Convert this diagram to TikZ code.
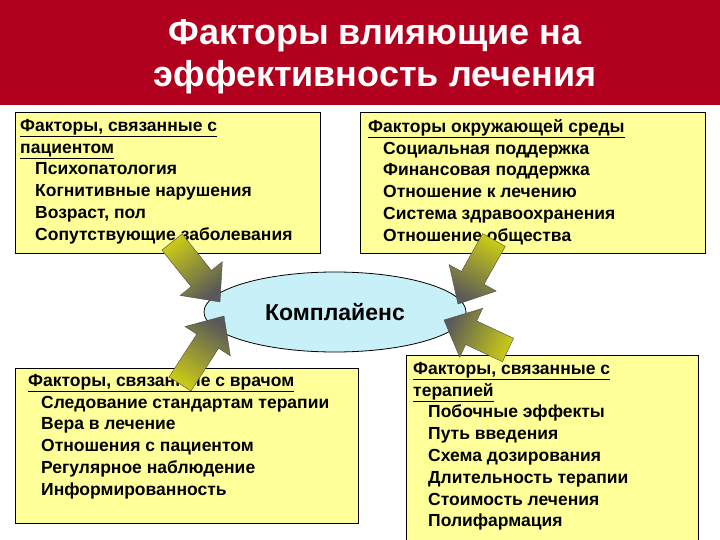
\documentclass[tikz,border=0pt]{standalone}
\usepackage{fontspec}
\setmainfont{Liberation Sans}
\usetikzlibrary{calc,shapes.geometric}
\definecolor{hdr}{HTML}{B0001E}
\definecolor{boxy}{HTML}{FFFF99}
\definecolor{ell}{HTML}{C8F0F8}
\tikzset{
 fbox/.style={draw=black,fill=boxy,line width=0.8pt},
 ftxt/.style={anchor=north west,align=left,font=\bfseries\fontsize{17.5}{21.8}\selectfont,inner sep=0pt},
}
\newcommand{\blockarrow}[2]{%
 \path let \p1=(#1), \p2=(#2), \n1={atan2(\y2-\y1,\x2-\x1)}, \n2={veclen(\x2-\x1,\y2-\y1)} in
  [shift={(#1)},rotate=\n1, draw=black!70, line width=0.4pt, left color=black!65, right color=olive!60!yellow!70, shading angle=\n1-90]
  (0,-13) -- (\n2-30,-13) -- (\n2-30,-27) -- (\n2,0) -- (\n2-30,27) -- (\n2-30,13) -- (0,13) -- cycle;}
\begin{document}
\begin{tikzpicture}[x=1pt,y=-1pt]
\useasboundingbox (0,0) rectangle (720,540);
\fill[white] (0,0) rectangle (720,540);
\fill[hdr] (0,0) rectangle (720,105);
\node[text=white,font=\bfseries\fontsize{36}{42}\selectfont,align=center] (title) at (375,57) {Факторы влияющие на\\эффективность лечения};
\node[fbox,minimum width=305pt,minimum height=141pt,anchor=north west] (pat) at (15,112) {};
\node[ftxt] (patt) at (20,119) {\underline{Факторы, связанные с}\\\underline{пациентом}\\\hspace*{15pt}Психопатология\\\hspace*{15pt}Когнитивные нарушения\\\hspace*{15pt}Возраст, пол\\\hspace*{15pt}Сопутствующие заболевания};
\node[fbox,minimum width=345pt,minimum height=141pt,anchor=north west] (env) at (360,112) {};
\node[ftxt] (envt) at (368,119) {\underline{Факторы окружающей среды}\\\hspace*{15pt}Социальная поддержка\\\hspace*{15pt}Финансовая поддержка\\\hspace*{15pt}Отношение к лечению\\\hspace*{15pt}Система здравоохранения\\\hspace*{15pt}Отношение общества};
\node[fbox,minimum width=343pt,minimum height=155pt,anchor=north west] (doc) at (15,368) {};
\node[ftxt] (doct) at (28,374) {\underline{Факторы, связанные с врачом}\\\hspace*{13pt}Следование стандартам терапии\\\hspace*{13pt}Вера в лечение\\\hspace*{13pt}Отношения с пациентом\\\hspace*{13pt}Регулярное наблюдение\\\hspace*{13pt}Информированность};
\node[fbox,minimum width=292pt,minimum height=190pt,anchor=north west] (ther) at (406,355) {};
\node[ftxt] (thert) at (413,362) {\underline{Факторы, связанные с}\\\underline{терапией}\\\hspace*{15pt}Побочные эффекты\\\hspace*{15pt}Путь введения\\\hspace*{15pt}Схема дозирования\\\hspace*{15pt}Длительность терапии\\\hspace*{15pt}Стоимость лечения\\\hspace*{15pt}Полифармация};
\node[draw=black,line width=0.8pt,fill=ell,ellipse,minimum width=262pt,minimum height=80pt,font=\bfseries\fontsize{23}{28}\selectfont] (comp) at (335,312) {Комплайенс};
\coordinate (a1) at (172,242); \coordinate (b1) at (220,302);
\coordinate (a2) at (494,240); \coordinate (b2) at (458,304);
\coordinate (a3) at (180,384); \coordinate (b3) at (224,316);
\coordinate (a4) at (508,350); \coordinate (b4) at (444,320);
\blockarrow{a1}{b1}
\blockarrow{a2}{b2}
\blockarrow{a3}{b3}
\blockarrow{a4}{b4}
\end{tikzpicture}
\end{document}
